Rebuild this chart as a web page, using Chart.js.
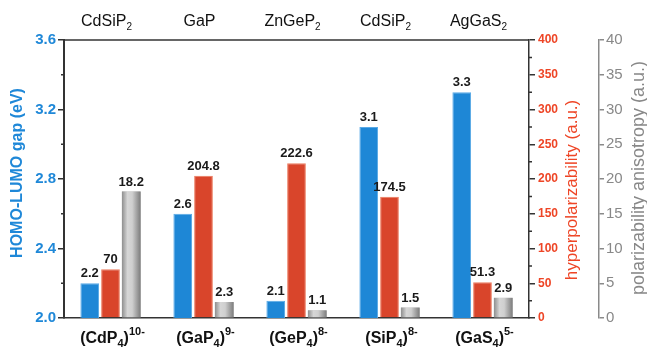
<!DOCTYPE html>
<html>
<head>
<meta charset="utf-8">
<script src="https://cdn.jsdelivr.net/npm/chart.js@4.4.1/dist/chart.umd.min.js"></script>
<style>
  html, body { margin: 0; padding: 0; background: #fff; }
  #wrap { width: 647px; height: 350px; }
</style>
</head>
<body>
<div id="wrap"><canvas id="c" width="647" height="350"></canvas></div>
<script>
// Cluster categories (bottom axis) and the parent crystals (top row)
const categories = ['(CdP4)10-', '(GaP4)9-', '(GeP4)8-', '(SiP4)8-', '(GaS4)5-'];
const clusterCore = ['CdP', 'GaP', 'GeP', 'SiP', 'GaS'];
const clusterSub = ['4', '4', '4', '4', '4'];
const clusterCharge = ['10-', '9-', '8-', '8-', '5-'];
const crystalName = ['CdSiP', 'GaP', 'ZnGeP', 'CdSiP', 'AgGaS'];
const crystalSub = ['2', '', '2', '2', '2'];

// Series values
const gapEV = [2.2, 2.6, 2.1, 3.1, 3.3];
const hyperpol = [70, 204.8, 222.6, 174.5, 51.3];
const anisotropy = [18.2, 2.3, 1.1, 1.5, 2.9];

// Axis ranges and tick steps
const gapTicks = { min: 2.0, max: 3.6, step: 0.4 };
const hyperTicks = { min: 0, max: 400, step: 50 };
const anisoTicks = { min: 0, max: 40, step: 5 };

const BLUE = '#1e87d6';
const RED = '#d9452b';
const BLUE_TXT = '#1f88d8';
const RED_TXT = '#ee4526';
const GRAY_TXT = '#888888';
const AXIS = '#333333';
const FONT = '"Liberation Sans", Arial, Helvetica, sans-serif';

// Draws a run of text pieces (with sub/superscripts) centred on cx
function drawRich(ctx, parts, cx, baseline) {
  let total = 0;
  parts.forEach(p => { ctx.font = p.font; p.w = ctx.measureText(p.text).width; total += p.w; });
  let x = cx - total / 2;
  ctx.textAlign = 'left';
  ctx.textBaseline = 'alphabetic';
  parts.forEach(p => {
    ctx.font = p.font;
    ctx.fillText(p.text, x, baseline + (p.dy || 0));
    x += p.w;
  });
}

function drawRotated(ctx, text, font, color, cx, cy) {
  ctx.save();
  ctx.translate(cx, cy);
  ctx.rotate(-Math.PI / 2);
  ctx.font = font;
  ctx.fillStyle = color;
  ctx.textAlign = 'center';
  ctx.textBaseline = 'middle';
  ctx.fillText(text, 0, 0);
  ctx.restore();
}

const decorations = {
  id: 'decorations',
  afterDatasetsDraw(chart) {
    const ctx = chart.ctx;
    const area = chart.chartArea;

    // cylindrical shading on the grey bars
    const greyMeta = chart.getDatasetMeta(2);
    greyMeta.data.forEach(el => {
      const { x, y, base, width } = el.getProps(['x', 'y', 'base', 'width'], true);
      const g = ctx.createLinearGradient(x - width / 2, 0, x + width / 2, 0);
      g.addColorStop(0, '#8e8e8e');
      g.addColorStop(0.3, '#d6d6d6');
      g.addColorStop(0.55, '#cfcfcf');
      g.addColorStop(1, '#7c7c7c');
      ctx.fillStyle = g;
      ctx.fillRect(x - width / 2, y, width, base - y);
    });

    // value labels above every bar
    ctx.save();
    ctx.fillStyle = '#1a1a1a';
    ctx.font = 'bold 13px ' + FONT;
    ctx.textAlign = 'center';
    ctx.textBaseline = 'bottom';
    chart.data.datasets.forEach((ds, di) => {
      chart.getDatasetMeta(di).data.forEach((el, i) => {
        ctx.fillText(String(ds.data[i]), el.x, el.y - 3);
      });
    });
    ctx.restore();
  },
  afterDraw(chart) {
    const ctx = chart.ctx;
    const area = chart.chartArea;
    const xs = chart.scales.x;

    // top frame line
    ctx.save();
    ctx.strokeStyle = AXIS;
    ctx.lineWidth = 1.5;
    ctx.beginPath();
    ctx.moveTo(area.left, area.top);
    ctx.lineTo(area.right, area.top);
    ctx.stroke();

    // minor ticks on the gap axis (outward) and hyperpolarizability axis
    const ys = chart.scales.y;
    ctx.beginPath();
    for (let v = gapTicks.min + gapTicks.step / 2; v < gapTicks.max; v += gapTicks.step) {
      const py = ys.getPixelForValue(v);
      ctx.moveTo(area.left - 3, py);
      ctx.lineTo(area.left, py);
    }
    const y1 = chart.scales.y1;
    for (let v = hyperTicks.min + hyperTicks.step / 2; v < hyperTicks.max; v += hyperTicks.step) {
      const py = y1.getPixelForValue(v);
      ctx.moveTo(area.right, py);
      ctx.lineTo(area.right + 3, py);
    }
    ctx.stroke();
    ctx.restore();

    // crystal names along the top, cluster names along the bottom
    ctx.save();
    ctx.fillStyle = '#111';
    categories.forEach((c, i) => {
      const cx = xs.getPixelForValue(i);
      const top = [{ text: crystalName[i], font: '16px ' + FONT }];
      if (crystalSub[i]) top.push({ text: crystalSub[i], font: '10px ' + FONT, dy: 4 });
      drawRich(ctx, top, cx - 4, 26);
      drawRich(ctx, [
        { text: '(' + clusterCore[i], font: 'bold 16px ' + FONT },
        { text: clusterSub[i], font: 'bold 11px ' + FONT, dy: 4 },
        { text: ')', font: 'bold 16px ' + FONT },
        { text: clusterCharge[i], font: 'bold 11px ' + FONT, dy: -8 }
      ], cx + 2, 343);
    });
    ctx.restore();

    // axis titles
    drawRotated(ctx, 'HOMO-LUMO gap (eV)', 'bold 16px ' + FONT, BLUE_TXT, 18, 173);
    drawRotated(ctx, 'hyperpolarizability (a.u.)', '17px ' + FONT, RED_TXT, 572, 190);
    drawRotated(ctx, 'polarizability anisotropy (a.u.)', '18px ' + FONT, GRAY_TXT, 639, 178);
  }
};

new Chart(document.getElementById('c'), {
  type: 'bar',
  data: {
    labels: categories,
    datasets: [
      { label: 'HOMO-LUMO gap', data: gapEV, yAxisID: 'y',
        backgroundColor: BLUE, borderColor: '#58a9e6', borderWidth: 1 },
      { label: 'hyperpolarizability', data: hyperpol, yAxisID: 'y1',
        backgroundColor: RED, borderColor: '#ec7a5c', borderWidth: 1 },
      { label: 'polarizability anisotropy', data: anisotropy, yAxisID: 'y2',
        backgroundColor: '#bcbcbc', borderWidth: 0 }
    ]
  },
  options: {
    responsive: false,
    animation: false,
    devicePixelRatio: 1,
    datasets: { bar: { categoryPercentage: 0.67, barPercentage: 0.9 } },
    layout: { padding: { top: 40, left: 0, right: 0, bottom: 0 } },
    plugins: { legend: { display: false }, tooltip: { enabled: false } },
    scales: {
      x: {
        grid: { display: false, drawTicks: false },
        ticks: { display: false },
        border: { display: true, color: AXIS, width: 1.5 },
        afterFit: s => { s.height = 32; }
      },
      y: {
        position: 'left',
        min: gapTicks.min, max: gapTicks.max,
        ticks: { stepSize: gapTicks.step, color: BLUE_TXT, font: { family: FONT, size: 15, weight: 'bold' },
                 padding: 2, callback: v => v.toFixed(1) },
        grid: { drawOnChartArea: false, color: AXIS, tickLength: 6, lineWidth: 1.5 },
        border: { color: AXIS, width: 2 },
        afterFit: s => { s.width = 64; }
      },
      y1: {
        position: 'right',
        min: hyperTicks.min, max: hyperTicks.max,
        ticks: { stepSize: hyperTicks.step, color: RED_TXT, font: { family: FONT, size: 12, weight: 'bold' }, padding: 3 },
        grid: { drawOnChartArea: false, color: AXIS, tickLength: 6, lineWidth: 1.5 },
        border: { color: AXIS, width: 1.5 },
        afterFit: s => { s.width = 70; }
      },
      y2: {
        position: 'right',
        min: anisoTicks.min, max: anisoTicks.max,
        ticks: { stepSize: anisoTicks.step, color: GRAY_TXT, font: { family: FONT, size: 15 }, padding: 2 },
        grid: { drawOnChartArea: false, color: '#8a8a8a', tickLength: 5, lineWidth: 1.5 },
        border: { color: '#8a8a8a', width: 1.5 },
        afterFit: s => { s.width = 48; }
      }
    }
  },
  plugins: [decorations]
});
</script>
</body>
</html>
